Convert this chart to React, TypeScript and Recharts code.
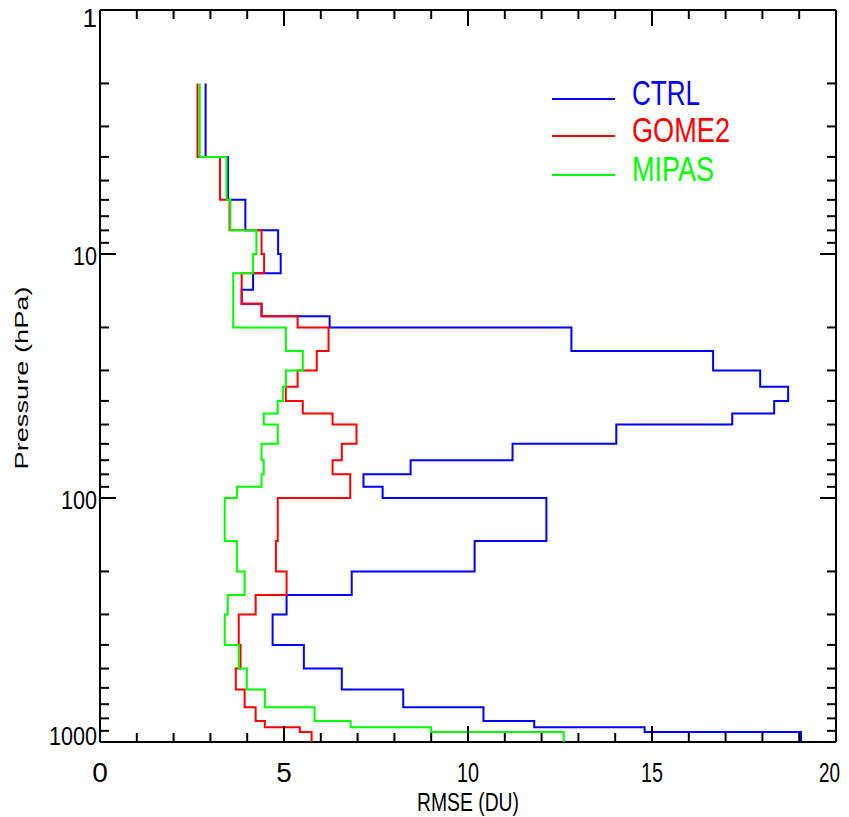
import React from 'react';
import { ScatterChart, Scatter, XAxis, YAxis, Legend } from 'recharts';

// Pressure layer boundaries (hPa), top to bottom
const pressureLevels = [2, 4, 6, 8, 10, 12, 14, 16, 18, 20, 25, 30, 35, 40, 45, 50, 60, 70, 80, 90, 100, 150, 200, 250, 300, 400, 500, 610, 720, 820, 870, 910, 1000];

// RMSE (DU) per layer, top to bottom
const ctrlRmse = [2.87, 3.48, 3.95, 4.84, 4.91, 4.16, 3.85, 4.39, 6.24, 12.81, 16.66, 17.94, 18.7, 18.32, 17.18, 14.03, 11.21, 8.44, 7.16, 7.68, 12.13, 10.18, 6.84, 5.07, 4.69, 5.54, 6.57, 8.24, 10.42, 11.8, 14.8, 19.05];
const gome2Rmse = [2.65, 3.26, 3.52, 4.39, 4.46, 3.85, 3.85, 4.39, 5.37, 6.21, 5.89, 5.37, 5.05, 5.51, 6.32, 6.97, 6.57, 6.32, 6.8, 6.8, 4.83, 4.78, 5.07, 4.23, 3.77, 3.82, 3.69, 3.93, 4.23, 4.48, 5.43, 5.75];
const mipasRmse = [2.71, 3.44, 3.54, 4.25, 4.16, 3.62, 3.62, 3.62, 3.62, 5.05, 5.51, 5.05, 4.97, 4.83, 4.45, 4.83, 4.39, 4.45, 4.39, 3.72, 3.39, 3.72, 3.93, 3.47, 3.39, 3.77, 3.99, 4.48, 5.83, 6.81, 9.0, 12.6];

const seriesNames = ['CTRL', 'GOME2', 'MIPAS'];
const seriesColors = ['#0000ff', '#ff0000', '#00ff00'];
const seriesValues = [ctrlRmse, gome2Rmse, mipasRmse];

const xTicks = [0, 1, 2, 3, 4, 5, 6, 7, 8, 9, 10, 11, 12, 13, 14, 15, 16, 17, 18, 19, 20];
const yTicks = [1, 2, 3, 4, 5, 6, 7, 8, 9, 10, 20, 30, 40, 50, 60, 70, 80, 90, 100, 200, 300, 400, 500, 600, 700, 800, 900, 1000];
const xDomain: [number, number] = [0, 20];
const yDomain: [number, number] = [1, 1000];
const xTitle = 'RMSE (DU)';
const yTitle = 'Pressure (hPa)';

const FONT = '"Liberation Sans", Arial, sans-serif';
const MAJOR = 16;
const MINOR = 9;

function toSteps(values: number[]) {
  return values.flatMap((v, i) => [
    { x: v, y: pressureLevels[i] },
    { x: v, y: pressureLevels[i + 1] },
  ]);
}

const EmptyShape = () => <g />;

const isDecade = (v: number) => Math.abs(Math.log10(v) - Math.round(Math.log10(v))) < 1e-9;

const BottomTick = (props: any) => {
  const { x, y, payload } = props;
  const v = payload.value;
  const major = v % 5 === 0;
  const label = String(v);
  const isLast = v === xDomain[1];
  return (
    <g>
      <line x1={x} y1={y} x2={x} y2={y - (major ? MAJOR : MINOR)} stroke="#000" strokeWidth={2} />
      {major && (
        <text
          x={isLast ? x + 4 : x}
          y={y + 40}
          textAnchor={isLast ? 'end' : 'middle'}
          fontSize={28}
          fontFamily={FONT}
          fill="#000"
          {...(label.length > 1 ? { textLength: isLast ? 21 : 22, lengthAdjust: 'spacingAndGlyphs' } : {})}
        >
          {label}
        </text>
      )}
    </g>
  );
};

const TopTick = (props: any) => {
  const { x, y, payload } = props;
  const major = payload.value % 5 === 0;
  return <line x1={x} y1={y} x2={x} y2={y + (major ? MAJOR : MINOR)} stroke="#000" strokeWidth={2} />;
};

const LeftTick = (props: any) => {
  const { x, y, payload } = props;
  const v = payload.value;
  const major = isDecade(v);
  const label = String(v);
  const dy = v === 1 ? 17 : v === 1000 ? 3 : 11;
  return (
    <g>
      <line x1={x} y1={y} x2={x + (major ? MAJOR : MINOR)} y2={y} stroke="#000" strokeWidth={2} />
      {major && (
        <text
          x={x - 3}
          y={y + dy}
          textAnchor="end"
          fontSize={26}
          fontFamily={FONT}
          fill="#000"
          {...(label.length > 1 ? { textLength: label.length * 12, lengthAdjust: 'spacingAndGlyphs' } : {})}
        >
          {label}
        </text>
      )}
    </g>
  );
};

const RightTick = (props: any) => {
  const { x, y, payload } = props;
  const major = isDecade(payload.value);
  return <line x1={x} y1={y} x2={x - (major ? MAJOR : MINOR)} y2={y} stroke="#000" strokeWidth={2} />;
};

const XTitle = (props: any) => {
  const vb = props.viewBox || { x: 100, y: 742, width: 736 };
  const cx = vb.x + vb.width / 2;
  return (
    <text x={cx} y={vb.y + 69} textAnchor="middle" fontSize={26} fontFamily={FONT} fill="#000" textLength={102} lengthAdjust="spacingAndGlyphs">
      {xTitle}
    </text>
  );
};

const YTitle = (props: any) => {
  const vb = props.viewBox || { x: 0, y: 10, width: 100, height: 732 };
  const cx = 28;
  const cy = vb.y + vb.height / 2 + 2;
  return (
    <text
      x={cx}
      y={cy}
      transform={`rotate(-90, ${cx}, ${cy})`}
      textAnchor="middle"
      fontSize={18}
      fontFamily={FONT}
      fill="#000"
      textLength={183}
      lengthAdjust="spacingAndGlyphs"
    >
      {yTitle}
    </text>
  );
};

const legendTextLengths = [68, 98, 82];

const LegendContent = () => (
  <svg width={260} height={130} style={{ display: 'block' }}>
    {seriesNames.map((name, i) => {
      const ly = 29 + [0, 37, 76][i];
      return (
        <g key={name}>
          <line x1={4} y1={ly} x2={67} y2={ly} stroke={seriesColors[i]} strokeWidth={2} />
          <text
            x={84}
            y={ly + 6}
            fontSize={35}
            fontFamily={FONT}
            fill={seriesColors[i]}
            textLength={legendTextLengths[i]}
            lengthAdjust="spacingAndGlyphs"
          >
            {name}
          </text>
        </g>
      );
    })}
  </svg>
);

export default function App() {
  return (
    <div style={{ width: 849, height: 817, marginTop: -8, marginLeft: -8, background: '#fff' }}>
      <style>{'html { overflow: hidden; }'}</style>
      <ScatterChart width={849} height={817} margin={{ top: 0, right: 0, bottom: 0, left: 0 }}>
        <XAxis
          xAxisId="b"
          orientation="bottom"
          type="number"
          dataKey="x"
          domain={xDomain}
          ticks={xTicks}
          interval={0}
          height={75}
          tickSize={0}
          tickMargin={0}
          tickLine={false}
          axisLine={{ stroke: '#000', strokeWidth: 2 }}
          tick={BottomTick}
          allowDataOverflow
          label={<XTitle />}
        />
        <XAxis
          xAxisId="t"
          orientation="top"
          type="number"
          dataKey="x"
          domain={xDomain}
          ticks={xTicks}
          interval={0}
          height={10}
          tickSize={0}
          tickMargin={0}
          tickLine={false}
          axisLine={{ stroke: '#000', strokeWidth: 2 }}
          tick={TopTick}
          allowDataOverflow
        />
        <YAxis
          yAxisId="l"
          orientation="left"
          type="number"
          dataKey="y"
          scale="log"
          domain={yDomain}
          reversed
          ticks={yTicks}
          interval={0}
          width={100}
          tickSize={0}
          tickMargin={0}
          tickLine={false}
          axisLine={{ stroke: '#000', strokeWidth: 2 }}
          tick={LeftTick}
          allowDataOverflow
          label={<YTitle />}
        />
        <YAxis
          yAxisId="r"
          orientation="right"
          type="number"
          dataKey="y"
          scale="log"
          domain={yDomain}
          reversed
          ticks={yTicks}
          interval={0}
          width={13}
          tickSize={0}
          tickMargin={0}
          tickLine={false}
          axisLine={{ stroke: '#000', strokeWidth: 2 }}
          tick={RightTick}
          allowDataOverflow
        />
        <Legend
          layout="vertical"
          align="center"
          verticalAlign="middle"
          content={LegendContent}
          wrapperStyle={{ left: 548, top: 70, width: 260, height: 130 }}
        />
        {seriesNames.map((name, i) => (
          <Scatter
            key={name}
            name={name}
            data={toSteps(seriesValues[i])}
            xAxisId="b"
            yAxisId="l"
            fill={seriesColors[i]}
            line={{ stroke: seriesColors[i], strokeWidth: 2 }}
            shape={EmptyShape}
            isAnimationActive={false}
          />
        ))}
      </ScatterChart>
    </div>
  );
}
